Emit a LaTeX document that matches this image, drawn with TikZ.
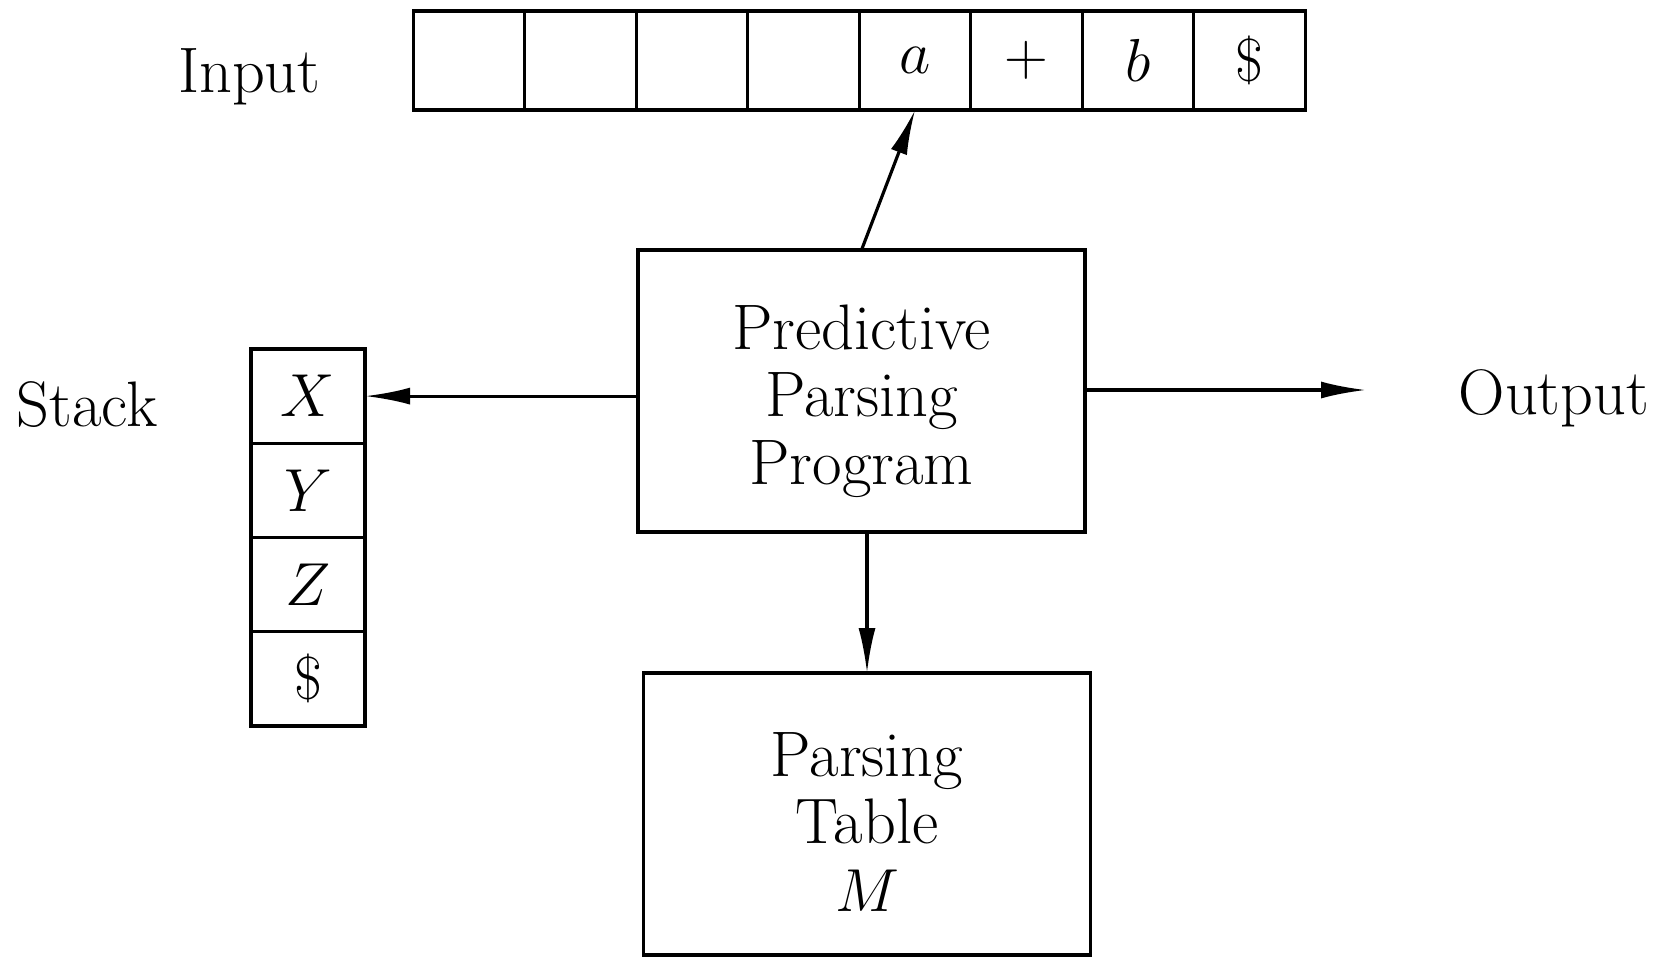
\documentclass[tikz,border=0pt]{standalone}
\usepackage{tikz}
\usetikzlibrary{arrows.meta,positioning,calc}

\begin{document}
\begin{tikzpicture}[node distance=1cm]
\tikzset{basicbox/.style={draw=black, line width=0.9pt, fill=white, align=center, text=black, outer sep=0pt, inner sep=0pt, font=\fontsize{18.3pt}{19.3pt}\selectfont}, cellbox/.style={basicbox, minimum width=1.115cm, minimum height=0.99cm}, stackbox/.style={basicbox, minimum width=1.14cm, minimum height=0.9425cm}, bigbox/.style={basicbox, minimum width=4.47cm, minimum height=2.82cm}, labeltext/.style={inner sep=0pt, font=\fontsize{18.3pt}{19.3pt}\selectfont}, arrowstyle/.style={-{Latex[length=4.5mm, width=1.7mm]}, line width=0.9pt, black}}
\useasboundingbox (0,0) rectangle (16.6,-9.58);
\foreach \sym [count=\i] in {{}, {}, {}, {}, a, +, b, \$}
  \node[cellbox] (in\i) at ({3.5755+1.115*\i}, -0.605) {$\sym$};
\foreach \sym [count=\i] in {X, Y, Z, \$}
  \node[stackbox] (st\i) at (3.08, {-3.0185-0.9425*\i}) {$\sym$};
\node[bigbox] (prog) at (8.615, -3.91) {\rule{0pt}{18.5pt}Predictive\\Parsing\\Program};
\node[bigbox] (table) at (8.67, -8.14) {\rule{0pt}{17pt}Parsing\\Table\\$M$};
\coordinate (outend) at (13.66, -3.90);
\draw[arrowstyle] (prog.north) -- (in5.south);
\draw[arrowstyle] (prog.west |- st1.east) -- (st1.east);
\draw[arrowstyle] (prog.east |- outend) -- (outend);
\draw[arrowstyle] (table.north |- prog.south) -- (table.north);
\node[labeltext, left=0.92cm of in1, yshift=-0.16cm] (inlabel) {Input};
\node[labeltext, left=0.93cm of st1, yshift=-0.08cm] (stlabel) {Stack};
\node[labeltext, right=0.92cm of outend, yshift=-0.08cm] (outlabel) {Output};
\end{tikzpicture}
\end{document}
